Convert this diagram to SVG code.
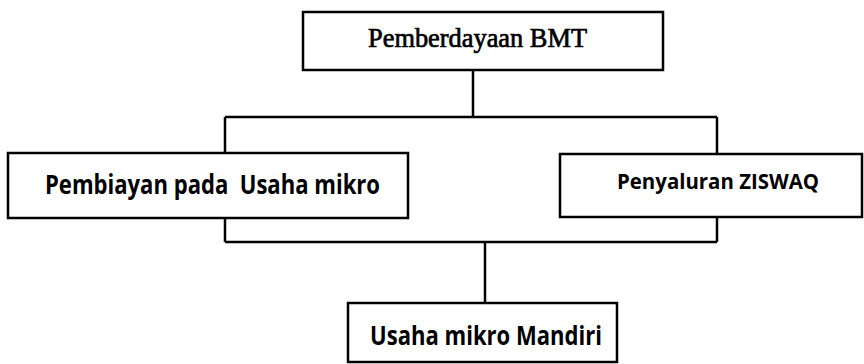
<svg xmlns="http://www.w3.org/2000/svg" width="864" height="364" viewBox="0 0 864 364">
<style>
.box{fill:#fff;stroke:#000;stroke-width:2.5}
.ln{fill:none;stroke:#000;stroke-width:2.5}
.serif{font-family:"Liberation Serif","Times New Roman",serif;font-size:27px;fill:#000;stroke:#000;stroke-width:0.7}
.sans{font-family:"Open Sans","Liberation Sans",sans-serif;font-weight:bold;fill:#000}
</style>
<rect x="0" y="0" width="864" height="364" fill="#fff"/>
<g id="connectors">
<path class="ln" d="M473,70 V117 M225,117 H717 M225,117 V153 M717,117 V154 M225,218 V242 M717,217 V242 M225,242 H717 M485,242 V303"/>
</g>
<g id="node-bmt">
<rect class="box" x="303" y="12" width="360" height="58"/>
<text class="serif" x="368" y="47" textLength="219" lengthAdjust="spacingAndGlyphs">Pemberdayaan BMT</text>
</g>
<g id="node-pembiayaan">
<rect class="box" x="8" y="153" width="400" height="65"/>
<text class="sans" x="45" y="194" font-size="26" textLength="335" lengthAdjust="spacingAndGlyphs" xml:space="preserve">Pembiayan pada  Usaha mikro</text>
</g>
<g id="node-ziswaq">
<rect class="box" x="560" y="154" width="302" height="63"/>
<text class="sans" x="617" y="189" font-size="21" textLength="202" lengthAdjust="spacingAndGlyphs">Penyaluran ZISWAQ</text>
</g>
<g id="node-mandiri">
<rect class="box" x="348" y="303" width="269" height="59"/>
<text class="sans" x="370" y="345" font-size="27" textLength="232" lengthAdjust="spacingAndGlyphs">Usaha mikro Mandiri</text>
</g>
</svg>
